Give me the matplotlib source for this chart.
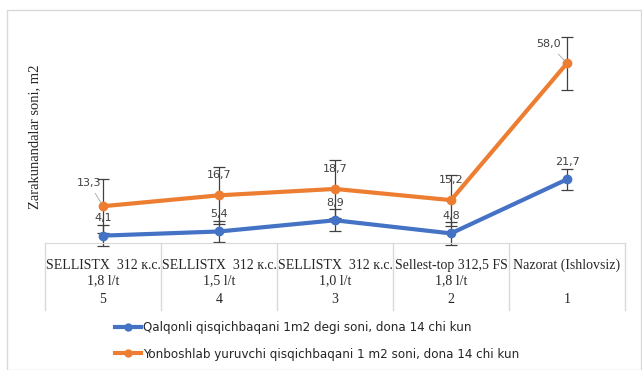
import matplotlib.pyplot as plt
from matplotlib.patches import Rectangle
from matplotlib.lines import Line2D
import matplotlib.transforms as mtransforms

# data
treat_names = ["SELLISTX  312 к.с.", "SELLISTX  312 к.с.", "SELLISTX  312 к.с.",
               "Sellest-top 312,5 FS", "Nazorat (Ishlovsiz)"]
treat_doses = ["1,8 l/t", "1,5 l/t", "1,0 l/t", "1,8 l/t", ""]
treat_nums = ["5", "4", "3", "2", "1"]
blue_vals = [4.1, 5.4, 8.9, 4.8, 21.7]
orange_vals = [13.3, 16.7, 18.7, 15.2, 58.0]
blue_err = [3.3, 3.3, 3.5, 3.5, 3.2]
orange_err = [8.5, 9.0, 9.0, 8.0, 8.3]
blue_name = "Qalqonli qisqichbaqani 1m2 degi soni, dona 14 chi kun"
orange_name = "Yonboshlab yuruvchi qisqichbaqani 1 m2 soni, dona 14 chi kun"

BLUE = "#4472C4"
ORANGE = "#ED7D31"
serif = "Liberation Serif"

W, H = 642, 370
fig = plt.figure(figsize=(W / 100, H / 100), dpi=100)
fig.patch.set_facecolor("white")

# chart area border
fig.patches.append(Rectangle((7 / W, 0.0), (W - 8) / W, (H - 10) / H,
                             transform=fig.transFigure, fill=False,
                             edgecolor="#d9d9d9", lw=1))

left, right, top, bottom = 45, 625, 20, 243
ax = fig.add_axes([left / W, 1 - bottom / H, (right - left) / W, (bottom - top) / H])
x = list(range(len(blue_vals)))
ax.set_xlim(-0.5, len(x) - 0.5)
ax.set_ylim(1.8, 71.5)

ax.errorbar(x, blue_vals, yerr=blue_err, fmt="none", ecolor="#404040",
            elinewidth=0.9, capsize=4, capthick=0.9, clip_on=False, zorder=2)
ax.errorbar(x, orange_vals, yerr=orange_err, fmt="none", ecolor="#404040",
            elinewidth=0.9, capsize=4, capthick=0.9, clip_on=False, zorder=2)
ax.plot(x, blue_vals, color=BLUE, lw=3, marker="o", ms=6, zorder=3, clip_on=False)
ax.plot(x, orange_vals, color=ORANGE, lw=3, marker="o", ms=6, zorder=3, clip_on=False)

for s in ["top", "right", "left"]:
    ax.spines[s].set_visible(False)
ax.spines["bottom"].set_color("#d9d9d9")
ax.set_xticks([])
ax.set_yticks([])
ax.set_facecolor("none")

# data labels
lab = dict(fontsize=8, color="#404040", ha="center", va="bottom")
for i, v in enumerate(blue_vals):
    ax.annotate(f"{v:.1f}".replace(".", ","), (i, v), xytext=(0, 9),
                textcoords="offset points", **lab)
for i, v in enumerate(orange_vals):
    if i == 0:
        ax.annotate("13,3", (i, v), xytext=(-10, 13), textcoords="offset points",
                    arrowprops=dict(arrowstyle="-", color="#a6a6a6", lw=0.6), **lab)
    elif i == 4:
        ax.annotate("58,0", (i, v), xytext=(-13, 10), textcoords="offset points",
                    arrowprops=dict(arrowstyle="-", color="#a6a6a6", lw=0.6), **lab)
    else:
        ax.annotate(f"{v:.1f}".replace(".", ","), (i, v), xytext=(0, 11),
                    textcoords="offset points", **lab)

# category table below axis
trans = mtransforms.blended_transform_factory(ax.transData, ax.transAxes)
for i in range(len(x)):
    ax.text(i, -0.10, treat_names[i], transform=trans, ha="center", va="center",
            fontsize=10, family=serif, color="#262626")
    ax.text(i, -0.17, treat_doses[i], transform=trans, ha="center", va="center",
            fontsize=10, family=serif, color="#262626")
    ax.text(i, -0.255, treat_nums[i], transform=trans, ha="center", va="center",
            fontsize=10, family=serif, color="#262626")
for b in [-0.5 + k for k in range(len(x) + 1)]:
    ax.add_line(Line2D([b, b], [0, -0.30], transform=trans, color="#d9d9d9",
                       lw=1, clip_on=False))

fig.text(35 / W, 1 - 137 / H, "Zarakunandalar soni, m2", rotation=90,
         ha="center", va="center", fontsize=10.5, family=serif, color="#262626")

# legend
handles = [Line2D([], [], color=BLUE, lw=3, marker="o", ms=5),
           Line2D([], [], color=ORANGE, lw=3, marker="o", ms=5)]
leg = fig.legend(handles, [blue_name, orange_name], loc="center",
                 bbox_to_anchor=(317 / W, 1 - 341 / H), frameon=False,
                 handlelength=2.0, handletextpad=0.1, labelspacing=1.0,
                 prop={"family": "DejaVu Sans", "stretch": "condensed", "size": 9.5})
for t in leg.get_texts():
    t.set_color("#262626")

fig.savefig("out.png", dpi=100)
